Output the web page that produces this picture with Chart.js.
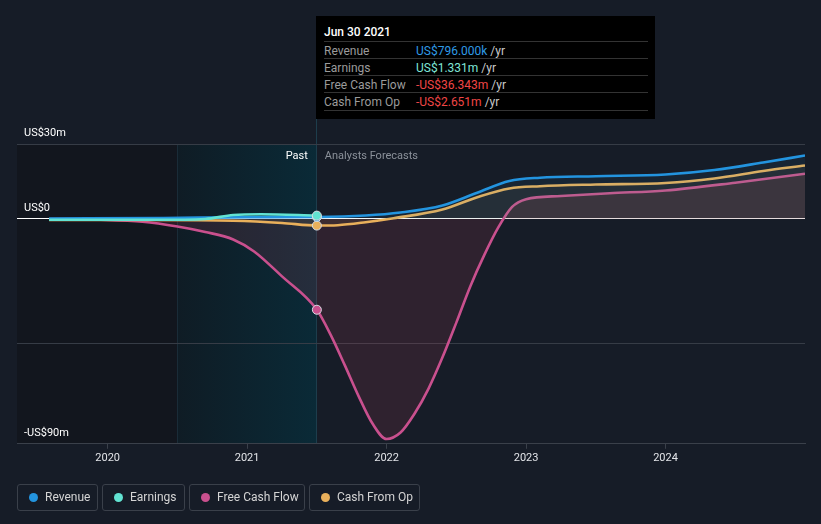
<!DOCTYPE html>
<html>
<head>
<meta charset="utf-8">
<script src="https://cdn.jsdelivr.net/npm/chart.js@4"></script>
<style>
  html, body { margin:0; padding:0; background:#161c27; }
  body { width:821px; height:524px; position:relative; overflow:hidden; font-family: Roboto, "Noto Sans", sans-serif; }
  #wrap { position:absolute; left:0; top:0; width:821px; height:524px; }
  #tip { position:absolute; left:316px; top:16px; width:339px; height:103px; background:#000; color:#fff; font-size:12px; }
  #tip .title { position:absolute; left:8px; top:9px; font-weight:500; font-size:12px; color:#fff; }
  #tip .row { position:absolute; left:8px; width:324px; height:17px; border-top:1px solid #333; }
  #tip .row .l { position:absolute; left:0; top:2px; color:#9b9b9b; }
  #tip .row .v { position:absolute; left:92px; top:2px; }
  #tip .row .u { color:#c9c9c9; }
  #tip .last { position:absolute; left:8px; width:324px; top:94px; border-top:1px solid #333; }
  #legend { position:absolute; left:17px; top:484px; height:27px; }
  .lg { position:absolute; top:0; height:25px; border:1px solid #3a404a; border-radius:3px; color:#d4d4d4; font-size:12px; line-height:25px; box-sizing:content-box; }
  .lg .dot { position:absolute; left:11px; top:8px; width:9px; height:9px; border-radius:50%; }
  .lg .t { position:absolute; left:27px; top:0; white-space:nowrap; }
</style>
</head>
<body>
<div id="wrap"><canvas id="c" width="821" height="524"></canvas></div>
<div id="tip">
  <div class="title">Jun 30 2021</div>
  <div class="row" style="top:25px"><span class="l">Revenue</span><span class="v"><span style="color:#2f9ae6">US$796.000k</span> <span class="u">/yr</span></span></div>
  <div class="row" style="top:42px"><span class="l">Earnings</span><span class="v"><span style="color:#7fe6d7">US$1.331m</span> <span class="u">/yr</span></span></div>
  <div class="row" style="top:59px"><span class="l">Free Cash Flow</span><span class="v"><span style="color:#f04646">-US$36.343m</span> <span class="u">/yr</span></span></div>
  <div class="row" style="top:76px"><span class="l">Cash From Op</span><span class="v"><span style="color:#f04646">-US$2.651m</span> <span class="u">/yr</span></span></div>
  <div class="last"></div>
</div>
<div id="legend"></div>
<script>
// ---- data (decimal years, US$ millions) ----
const revDates   = [2019.58, 2020.4, 2021.0, 2021.5, 2021.85, 2022.1, 2022.4, 2022.65, 2022.88, 2023.1, 2023.5, 2024.0, 2024.35, 2024.7, 2025.0];
const revValues  = [0.2, 0.4, 0.7, 0.796, 1.4, 2.6, 5.4, 10.5, 15.2, 16.5, 17.1, 17.8, 19.6, 22.6, 25.4];

const earnDates  = [2019.58, 2020.35, 2020.7, 2020.9, 2021.1, 2021.5];
const earnValues = [-0.3, -0.35, 0.0, 1.6, 1.9, 1.331];

const fcfDates   = [2019.58, 2019.95, 2020.25, 2020.5, 2020.7, 2020.9, 2021.05, 2021.25, 2021.5, 2021.6, 2021.7, 2021.8, 2021.9, 2022.0, 2022.1, 2022.2, 2022.3, 2022.4, 2022.5, 2022.6, 2022.7, 2022.8, 2022.9, 2023.0, 2023.25, 2023.6, 2024.0, 2024.5, 2025.0];
const fcfValues  = [0, -0.3, -1.1, -3.0, -5.2, -8.2, -13.0, -23.0, -36.343, -46.5, -58.5, -71, -82, -88.1, -85.5, -78, -68, -55.5, -41.5, -27, -14.5, -3.5, 4.8, 7.9, 9.2, 10.3, 11.4, 14.5, 18.1];

const cfoDates   = [2019.58, 2020.3, 2020.9, 2021.25, 2021.5, 2021.65, 2021.85, 2022.05, 2022.4, 2022.65, 2022.88, 2023.1, 2023.5, 2024.0, 2024.35, 2024.7, 2025.0];
const cfoValues  = [-0.4, -0.4, -0.7, -1.6, -2.651, -2.5, -1.3, 0.3, 3.8, 8.7, 12.2, 13.1, 13.8, 14.4, 16.2, 19.2, 21.4];

const xTickValues = [2020, 2021, 2022, 2023, 2024];
const yTickValues = [-90, -50, 0, 30];
const yTickLabels = ['-US$90m', '', 'US$0', 'US$30m'];

const seriesNames  = ['Revenue', 'Earnings', 'Free Cash Flow', 'Cash From Op'];
const seriesColors = ['#2394df', '#62e3d2', '#c9508e', '#e9b05b'];

const pastStart = 2020.5;
const nowDate = 2021.5;
const xMin = 2019.35, xMax = 2025.0;

// ---- legend ----
const lgLefts = [0, 85, 172, 292];
const lgWidths = [79, 81, 114, 109];
const legend = document.getElementById('legend');
seriesNames.forEach((n, i) => {
  const d = document.createElement('div');
  d.className = 'lg';
  d.style.left = lgLefts[i] + 'px';
  d.style.width = lgWidths[i] + 'px';
  d.innerHTML = '<span class="dot" style="background:' + seriesColors[i] + '"></span><span class="t">' + n + '</span>';
  legend.appendChild(d);
});

function pts(xs, ys) { return xs.map((x, i) => ({x: x, y: ys[i]})); }

const bgPlugin = {
  id: 'bgShade',
  beforeDraw(chart) {
    const {ctx, chartArea: a, scales: {x}} = chart;
    const xp = x.getPixelForValue(pastStart);
    const xn = x.getPixelForValue(nowDate);
    ctx.save();
    ctx.fillStyle = '#12161e';
    ctx.fillRect(a.left, a.top, xp - a.left, a.bottom - a.top);
    const g = ctx.createLinearGradient(xp, 0, xn, 0);
    g.addColorStop(0, '#0f1c25');
    g.addColorStop(1, '#0a2a37');
    ctx.fillStyle = g;
    ctx.fillRect(xp, a.top, xn - xp, a.bottom - a.top);
    ctx.fillStyle = '#1a2c38';
    ctx.fillRect(Math.round(xp), a.top, 1, a.bottom - a.top);
    ctx.fillStyle = '#1d3d4c';
    ctx.fillRect(Math.round(xn) - 1, 119, 1, a.bottom - 119);
    ctx.font = '11px Roboto';
    ctx.textBaseline = 'middle';
    ctx.textAlign = 'right';
    ctx.fillStyle = '#ffffff';
    ctx.fillText('Past', xn - 9, a.top + 12);
    ctx.textAlign = 'left';
    ctx.fillStyle = '#8b919a';
    ctx.fillText('Analysts Forecasts', xn + 8, a.top + 12);
    ctx.restore();
  }
};

function pointAt(dates) {
  return (c) => (dates[c.dataIndex] === nowDate ? 4.5 : 0);
}

const ds = (label, xs, ys, color, fillColor, order) => ({
  label: label,
  data: pts(xs, ys),
  borderColor: color,
  backgroundColor: fillColor,
  fill: fillColor ? 'origin' : false,
  borderWidth: 2.6,
  cubicInterpolationMode: 'monotone',
  pointRadius: pointAt(xs),
  pointHoverRadius: 0,
  pointBackgroundColor: color,
  pointBorderColor: '#d8dde3',
  pointBorderWidth: 1,
  order: order
});

new Chart(document.getElementById('c'), {
  type: 'line',
  data: {
    datasets: [
      ds(seriesNames[1], earnDates, earnValues, seriesColors[1], null, 0),
      ds(seriesNames[0], revDates, revValues, seriesColors[0], 'rgba(35,148,223,0.08)', 1),
      ds(seriesNames[3], cfoDates, cfoValues, seriesColors[3], 'rgba(233,176,91,0.08)', 2),
      ds(seriesNames[2], fcfDates, fcfValues, seriesColors[2], 'rgba(205,70,100,0.14)', 3)
    ]
  },
  options: {
    responsive: false,
    animation: false,
    events: [],
    layout: { padding: { top: 144, left: 3, right: 16, bottom: 56 } },
    plugins: { legend: { display: false }, tooltip: { enabled: false } },
    scales: {
      x: {
        type: 'linear',
        min: xMin, max: xMax,
        afterBuildTicks: (s) => { s.ticks = xTickValues.map(v => ({value: v})); },
        ticks: { color: '#e2e4e8', font: { family: 'Roboto', size: 11 }, padding: 3, maxRotation: 0, callback: (v) => String(v) },
        grid: { drawOnChartArea: false, drawTicks: true, tickLength: 5, color: '#3a404a' },
        border: { display: true, color: '#3a404a', width: 1 }
      },
      y: {
        type: 'linear',
        min: -90, max: 30,
        afterBuildTicks: (s) => { s.ticks = yTickValues.map(v => ({value: v})); },
        ticks: {
          mirror: true, padding: 7, labelOffset: -11,
          color: '#ffffff', font: { family: 'Roboto', size: 11 },
          callback: (v) => { const i = yTickValues.indexOf(v); return i >= 0 ? yTickLabels[i] : ''; }
        },
        grid: { drawTicks: false, color: (c) => (c.tick && c.tick.value === 0 ? '#ffffff' : '#363c46'), lineWidth: 1 },
        border: { display: false }
      }
    }
  },
  plugins: [bgPlugin]
});
</script>
</body>
</html>
